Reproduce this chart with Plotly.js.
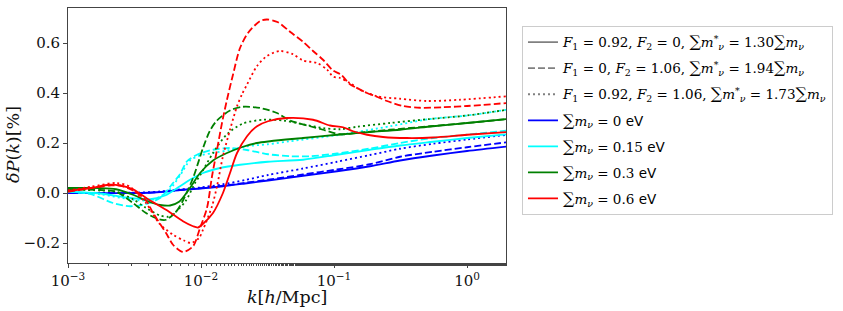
<!DOCTYPE html>
<html><head><meta charset="utf-8">
<script src="https://cdn.plot.ly/plotly-3.0.1.min.js"></script>
<style>html,body{margin:0;padding:0;background:#fff;}#chart{width:843px;height:311px;}</style>
</head><body><div id="chart"></div>
<script>
// ---- data: k [h/Mpc] and deltaP(k) [%] ----
const k_blue_solid  = [0.001,0.00348,0.00492,0.00695,0.00983,0.01462,0.02143,0.0319,0.05848,0.1054,0.1866,0.3135,0.5546,1.0,2.0];
const y_blue_solid  = [0.0,0.0,0.004,0.012,0.018,0.027,0.038,0.05,0.069,0.087,0.107,0.13,0.15,0.168,0.186];
const k_blue_dash   = [0.001,0.00348,0.00492,0.00695,0.00983,0.01462,0.02143,0.0319,0.05848,0.1054,0.1866,0.3135,0.5546,1.0,2.0];
const y_blue_dash   = [0.0,0.0,0.004,0.012,0.019,0.029,0.041,0.053,0.074,0.094,0.115,0.145,0.165,0.183,0.203];
const k_blue_dot    = [0.001,0.00348,0.00492,0.00695,0.00983,0.01462,0.02143,0.0319,0.05848,0.1054,0.1866,0.3135,0.5546,1.0,2.0];
const y_blue_dot    = [0.0,0.002,0.006,0.014,0.022,0.035,0.052,0.072,0.098,0.125,0.152,0.177,0.197,0.214,0.233];

const k_cyan_solid  = [0.001,0.00174,0.00293,0.00414,0.00536,0.00695,0.00826,0.01035,0.0139,0.01965,0.0319,0.05848,0.1054,0.1866,0.3135,0.5546,1.0,2.0];
const y_cyan_solid  = [0.005,-0.002,-0.02,-0.025,-0.01,0.027,0.053,0.08,0.1,0.113,0.125,0.133,0.153,0.173,0.19,0.205,0.22,0.235];
const k_cyan_dash   = [0.001,0.00149,0.00218,0.00293,0.00366,0.00492,0.00616,0.00695,0.00785,0.00933,0.01231,0.01652,0.02218,0.0319,0.04667,0.06607,0.1054,0.1866,0.3135,0.5546,1.0,2.0];
const y_cyan_dash   = [0.005,-0.005,-0.04,-0.053,-0.047,-0.02,0.04,0.075,0.127,0.153,0.173,0.18,0.172,0.155,0.147,0.147,0.158,0.178,0.2,0.22,0.233,0.25];
const k_cyan_dot    = [0.001,0.00174,0.00293,0.00414,0.00509,0.00585,0.00695,0.00826,0.00983,0.01231,0.01652,0.02218,0.0319,0.04667,0.1109,0.2637,0.5272,1.0,2.0];
const y_cyan_dot    = [0.005,-0.005,-0.025,-0.03,-0.01,0.015,0.07,0.13,0.15,0.16,0.172,0.187,0.195,0.207,0.233,0.267,0.296,0.31,0.333];

const k_green_solid = [0.001,0.00174,0.0023,0.00308,0.00406,0.00492,0.00585,0.00684,0.00826,0.00983,0.01231,0.01567,0.0207,0.02636,0.03303,0.05848,0.1054,0.1866,0.3135,0.5546,1.0,2.0];
const y_green_solid = [0.02,0.02,0.015,-0.007,-0.035,-0.048,-0.05,-0.035,0.02,0.08,0.13,0.16,0.185,0.2,0.207,0.22,0.233,0.244,0.253,0.267,0.28,0.296];
const k_green_dash  = [0.001,0.00174,0.0023,0.00308,0.00386,0.00483,0.00546,0.00649,0.00732,0.00871,0.01035,0.01169,0.01319,0.01652,0.0207,0.02778,0.03727,0.04667,0.06607,0.08262,0.1109,0.1489,0.2637,0.5272,1.0,2.0];
const y_green_dash  = [0.015,0.012,0.005,-0.04,-0.08,-0.105,-0.107,-0.075,-0.03,0.06,0.18,0.25,0.29,0.33,0.345,0.34,0.32,0.29,0.267,0.253,0.235,0.24,0.253,0.267,0.28,0.296];
const k_green_dot   = [0.001,0.00174,0.0023,0.00308,0.00386,0.00492,0.00565,0.00649,0.00771,0.00901,0.00983,0.01231,0.01567,0.0207,0.02926,0.0414,0.0492,0.08262,0.1109,0.1489,0.2637,0.5272,1.0,2.0];
const y_green_dot   = [0.015,0.01,0.005,-0.025,-0.06,-0.09,-0.095,-0.075,-0.03,0.04,0.07,0.16,0.235,0.278,0.293,0.29,0.283,0.26,0.255,0.265,0.28,0.296,0.31,0.333];

const k_red_solid   = [0.001,0.00149,0.00203,0.00246,0.00308,0.00406,0.00546,0.00732,0.00871,0.00949,0.01018,0.01231,0.01462,0.01652,0.01866,0.02218,0.02636,0.0319,0.04434,0.06955,0.09333,0.1169,0.139,0.177,0.2335,0.354,0.5546,1.0,2.0];
const y_red_solid   = [0.008,0.02,0.033,0.03,0.015,-0.027,-0.067,-0.113,-0.133,-0.138,-0.127,-0.08,0.0,0.08,0.16,0.227,0.267,0.287,0.3,0.293,0.27,0.263,0.247,0.233,0.224,0.22,0.222,0.233,0.244];
const k_red_dash    = [0.001,0.00149,0.00207,0.00246,0.00308,0.00386,0.00436,0.00546,0.00616,0.00732,0.00871,0.00983,0.01109,0.0121,0.01319,0.01438,0.01567,0.01741,0.01965,0.02255,0.02778,0.03135,0.03793,0.04667,0.05848,0.06955,0.08262,0.09825,0.1129,0.1318,0.1489,0.177,0.2104,0.2502,0.3304,0.4436,0.6607,1.0,2.0];
const y_red_dash    = [0.005,0.02,0.03,0.03,0.01,-0.03,-0.08,-0.16,-0.207,-0.236,-0.213,-0.14,-0.06,0.067,0.173,0.28,0.373,0.474,0.58,0.64,0.688,0.694,0.683,0.645,0.605,0.568,0.533,0.49,0.473,0.435,0.42,0.4,0.385,0.368,0.348,0.341,0.343,0.348,0.36];
const k_red_dot     = [0.001,0.00149,0.0023,0.00293,0.00342,0.00386,0.00483,0.00616,0.00745,0.00841,0.00966,0.01035,0.0121,0.01319,0.01462,0.01652,0.01866,0.02034,0.02218,0.02636,0.03135,0.03926,0.0492,0.05848,0.07447,0.0885,0.09825,0.1109,0.1318,0.1567,0.2104,0.3135,0.5,0.8851,2.0];
const y_red_dot     = [0.01,0.025,0.04,0.025,-0.013,-0.04,-0.12,-0.167,-0.19,-0.2,-0.18,-0.147,-0.053,0.027,0.147,0.253,0.347,0.395,0.434,0.508,0.548,0.568,0.555,0.53,0.52,0.494,0.466,0.46,0.44,0.413,0.387,0.377,0.368,0.373,0.387];

const SUM = '<span style="font-size:16px">∑</span>';
const EV = '<span style="font-family:DejaVu Sans">eV</span><sup> </sup>';
const legendNames = [
  '<i>F</i><sub>1</sub> = 0.92, <i>F</i><sub>2</sub> = 0, ' + SUM + '<i>m</i><sup>*</sup><sub><i>ν</i></sub> = 1.30' + SUM + '<i>m</i><sub><i>ν</i></sub>',
  '<i>F</i><sub>1</sub> = 0, <i>F</i><sub>2</sub> = 1.06, ' + SUM + '<i>m</i><sup>*</sup><sub><i>ν</i></sub> = 1.94' + SUM + '<i>m</i><sub><i>ν</i></sub>',
  '<i>F</i><sub>1</sub> = 0.92, <i>F</i><sub>2</sub> = 1.06, ' + SUM + '<i>m</i><sup>*</sup><sub><i>ν</i></sub> = 1.73' + SUM + '<i>m</i><sub><i>ν</i></sub>',
  SUM + '<i>m</i><sub><i>ν</i></sub> = 0 ' + EV,
  SUM + '<i>m</i><sub><i>ν</i></sub> = 0.15 ' + EV,
  SUM + '<i>m</i><sub><i>ν</i></sub> = 0.3 ' + EV,
  SUM + '<i>m</i><sub><i>ν</i></sub> = 0.6 ' + EV
];
const xTickVals = [0.001, 0.01, 0.1, 1];
const xTickText = ['10<sup>−3</sup>','10<sup>−2</sup>','10<sup>−1</sup>','10<sup>0</sup>'];
const yTickVals = [-0.2, 0.0, 0.2, 0.4, 0.6];
const yTickText = ['−0.2','0.0','0.2','0.4','0.6'];
const xTitle = '<i>k</i>[<i>h</i>/Mpc]';
const yTitle = '<i>δP</i>(<i>k</i>)[%]';

const colors = {blue:'#0000ff', cyan:'#00ffff', green:'#008000', red:'#ff0000'};
const dashes = {solid:'solid', dash:'7px,3px', dot:'2px,3px'};
const LW = 1.8;

const traces = [];
function addLine(k, y, color, dash){
  traces.push({x:k, y:y, type:'scatter', mode:'lines', showlegend:false, hoverinfo:'skip',
    line:{color:color, width:LW, dash:dash, shape:'spline', smoothing:0.8}});
}
addLine(k_blue_solid, y_blue_solid, colors.blue, dashes.solid);
addLine(k_blue_dash, y_blue_dash, colors.blue, dashes.dash);
addLine(k_blue_dot, y_blue_dot, colors.blue, dashes.dot);
addLine(k_cyan_solid, y_cyan_solid, colors.cyan, dashes.solid);
addLine(k_cyan_dash, y_cyan_dash, colors.cyan, dashes.dash);
addLine(k_cyan_dot, y_cyan_dot, colors.cyan, dashes.dot);
addLine(k_green_solid, y_green_solid, colors.green, dashes.solid);
addLine(k_green_dash, y_green_dash, colors.green, dashes.dash);
addLine(k_green_dot, y_green_dot, colors.green, dashes.dot);
addLine(k_red_solid, y_red_solid, colors.red, dashes.solid);
addLine(k_red_dash, y_red_dash, colors.red, dashes.dash);
addLine(k_red_dot, y_red_dot, colors.red, dashes.dot);

const legendStyles = [
  ['#808080', dashes.solid], ['#808080', dashes.dash], ['#808080', dashes.dot],
  [colors.blue, dashes.solid], [colors.cyan, dashes.solid], [colors.green, dashes.solid], [colors.red, dashes.solid]
];
legendStyles.forEach((s, i) => {
  traces.push({x:[null], y:[null], type:'scatter', mode:'lines', name:legendNames[i], showlegend:true,
    legendgroup:'g'+i, line:{color:s[0], width:LW, dash:s[1]}});
});

const tickFont = {family:'DejaVu Serif', size:15, color:'#111'};
const titleFont = {family:'DejaVu Serif', size:17.5, color:'#111'};
const layout = {
  width:843, height:311,
  margin:{l:68, r:337, t:8, b:48},
  paper_bgcolor:'#fff', plot_bgcolor:'#fff',
  showlegend:true,
  xaxis:{type:'log', range:[-3, 0.293], showgrid:false, zeroline:false,
    showline:true, mirror:true, linecolor:'#444', linewidth:1,
    ticks:'outside', ticklen:4, tickcolor:'#444',
    tickvals:xTickVals, ticktext:xTickText, tickfont:tickFont,
    minor:{ticks:'outside', ticklen:2, tickcolor:'#444', showgrid:false}},
  yaxis:{range:[-0.28, 0.74], showgrid:false, zeroline:false,
    showline:true, mirror:true, linecolor:'#444', linewidth:1,
    ticks:'outside', ticklen:4, tickcolor:'#444',
    tickvals:yTickVals, ticktext:yTickText, tickfont:tickFont},
  annotations:[
    {text:xTitle, xref:'paper', yref:'paper', x:0.5, y:-0.134, xanchor:'center', yanchor:'middle',
     showarrow:false, font:titleFont},
    {text:yTitle, xref:'paper', yref:'paper', x:-0.1256, y:0.467, xanchor:'center', yanchor:'middle',
     textangle:-90, showarrow:false, font:titleFont}
  ],
  legend:{x:1.0365, y:0.93, xanchor:'left', yanchor:'top', bgcolor:'#fff',
    bordercolor:'#ccc', borderwidth:1, traceorder:'grouped', tracegroupgap:5.5,
    font:{family:'DejaVu Serif', size:13.5, color:'#000'}}
};
Plotly.newPlot('chart', traces, layout, {staticPlot:true});
</script></body></html>
